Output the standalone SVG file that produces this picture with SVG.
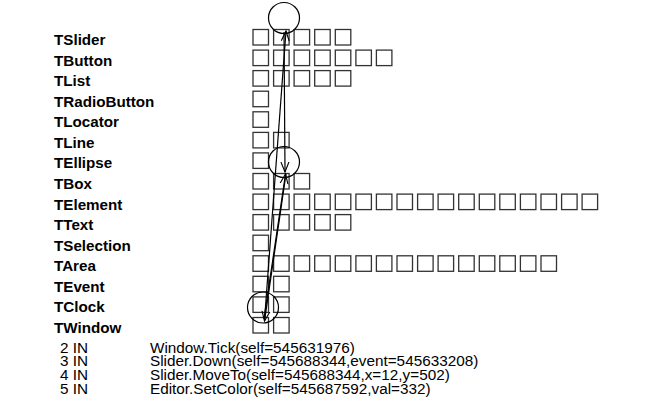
<svg xmlns="http://www.w3.org/2000/svg" width="650" height="402" viewBox="0 0 650 402">
<defs>
<style>
.lbl{font-family:"Liberation Sans",Arial,sans-serif;font-weight:bold;font-size:15.2px;fill:#000}
.log{font-family:"Liberation Sans",Arial,sans-serif;font-size:15.3px;fill:#000}
.b{fill:none;stroke:#333;stroke-width:1.3}
.c{fill:none;stroke:#000;stroke-width:1.2}
.e{fill:none;stroke:#000;stroke-width:1.2}
</style>
<rect id="bx" class="b" width="15.5" height="15.5"/>
<marker id="ah" markerUnits="userSpaceOnUse" markerWidth="12" markerHeight="12" refX="10" refY="5" orient="auto" viewBox="0 0 12 10">
<path d="M0,1 L10,5 L0,9" fill="none" stroke="#000" stroke-width="1.1"/>
</marker>
</defs>
<rect width="650" height="402" fill="#fff"/>
<g id="tslider"><text class="lbl" x="54" y="45">TSlider</text><g transform="translate(0,29.5)"><use href="#bx" x="253"/><use href="#bx" x="273.6"/><use href="#bx" x="294.1"/><use href="#bx" x="314.7"/><use href="#bx" x="335.3"/></g></g>
<g id="tbutton"><text class="lbl" x="54" y="65.6">TButton</text><g transform="translate(0,50.1)"><use href="#bx" x="253"/><use href="#bx" x="273.6"/><use href="#bx" x="294.1"/><use href="#bx" x="314.7"/><use href="#bx" x="335.3"/><use href="#bx" x="355.9"/><use href="#bx" x="376.4"/></g></g>
<g id="tlist"><text class="lbl" x="54" y="86.1">TList</text><g transform="translate(0,70.6)"><use href="#bx" x="253"/><use href="#bx" x="273.6"/><use href="#bx" x="294.1"/><use href="#bx" x="314.7"/><use href="#bx" x="335.3"/></g></g>
<g id="tradiobutton"><text class="lbl" x="54" y="106.7">TRadioButton</text><g transform="translate(0,91.2)"><use href="#bx" x="253"/></g></g>
<g id="tlocator"><text class="lbl" x="54" y="127.3">TLocator</text><g transform="translate(0,111.8)"><use href="#bx" x="253"/></g></g>
<g id="tline"><text class="lbl" x="54" y="147.9">TLine</text><g transform="translate(0,132.4)"><use href="#bx" x="253"/><use href="#bx" x="273.6"/></g></g>
<g id="tellipse"><text class="lbl" x="54" y="168.4">TEllipse</text><g transform="translate(0,152.9)"><use href="#bx" x="253"/></g></g>
<g id="tbox"><text class="lbl" x="54" y="189">TBox</text><g transform="translate(0,173.5)"><use href="#bx" x="253"/><use href="#bx" x="273.6"/><use href="#bx" x="294.1"/></g></g>
<g id="telement"><text class="lbl" x="54" y="209.6">TElement</text><g transform="translate(0,194.1)"><use href="#bx" x="253"/><use href="#bx" x="273.6"/><use href="#bx" x="294.1"/><use href="#bx" x="314.7"/><use href="#bx" x="335.3"/><use href="#bx" x="355.9"/><use href="#bx" x="376.4"/><use href="#bx" x="397"/><use href="#bx" x="417.6"/><use href="#bx" x="438.1"/><use href="#bx" x="458.7"/><use href="#bx" x="479.3"/><use href="#bx" x="499.8"/><use href="#bx" x="520.4"/><use href="#bx" x="541"/><use href="#bx" x="561.6"/><use href="#bx" x="582.1"/></g></g>
<g id="ttext"><text class="lbl" x="54" y="230.1">TText</text><g transform="translate(0,214.6)"><use href="#bx" x="253"/><use href="#bx" x="273.6"/><use href="#bx" x="294.1"/><use href="#bx" x="314.7"/><use href="#bx" x="335.3"/></g></g>
<g id="tselection"><text class="lbl" x="54" y="250.7">TSelection</text><g transform="translate(0,235.2)"><use href="#bx" x="253"/></g></g>
<g id="tarea"><text class="lbl" x="54" y="271.3">TArea</text><g transform="translate(0,255.8)"><use href="#bx" x="253"/><use href="#bx" x="273.6"/><use href="#bx" x="294.1"/><use href="#bx" x="314.7"/><use href="#bx" x="335.3"/><use href="#bx" x="355.9"/><use href="#bx" x="376.4"/><use href="#bx" x="397"/><use href="#bx" x="417.6"/><use href="#bx" x="438.1"/><use href="#bx" x="458.7"/><use href="#bx" x="479.3"/><use href="#bx" x="499.8"/><use href="#bx" x="520.4"/><use href="#bx" x="541"/></g></g>
<g id="tevent"><text class="lbl" x="54" y="291.8">TEvent</text><g transform="translate(0,276.3)"><use href="#bx" x="253"/><use href="#bx" x="273.6"/></g></g>
<g id="tclock"><text class="lbl" x="54" y="312.4">TClock</text><g transform="translate(0,296.9)"><use href="#bx" x="253"/><use href="#bx" x="273.6"/></g></g>
<g id="twindow"><text class="lbl" x="54" y="333">TWindow</text><g transform="translate(0,317.5)"><use href="#bx" x="253"/><use href="#bx" x="273.6"/></g></g>
<g id="focus">
<circle class="c" cx="284" cy="18" r="15.5"/>
<circle class="c" cx="284" cy="162" r="15.5"/>
<circle class="c" cx="263" cy="307.5" r="15.5"/>
</g>
<g id="connectors">
<line class="e" x1="264.5" y1="320" x2="286" y2="31" marker-end="url(#ah)"/>
<line class="e" x1="284" y1="32" x2="285" y2="172" marker-end="url(#ah)"/>
<line class="e" x1="286" y1="174" x2="264.5" y2="321" marker-end="url(#ah)"/>
<line class="e" x1="264" y1="319" x2="285.5" y2="174" marker-end="url(#ah)"/>
</g>
<g id="log">
<text class="log" x="60" y="352.5">2 IN</text><text class="log" x="150" y="352.5">Window.Tick(self=545631976)</text>
<text class="log" x="60" y="366.2">3 IN</text><text class="log" x="150" y="366.2">Slider.Down(self=545688344,event=545633208)</text>
<text class="log" x="60" y="379.9">4 IN</text><text class="log" x="150" y="379.9">Slider.MoveTo(self=545688344,x=12,y=502)</text>
<text class="log" x="60" y="393.6">5 IN</text><text class="log" x="150" y="393.6">Editor.SetColor(self=545687592,val=332)</text>
</g>
</svg>
